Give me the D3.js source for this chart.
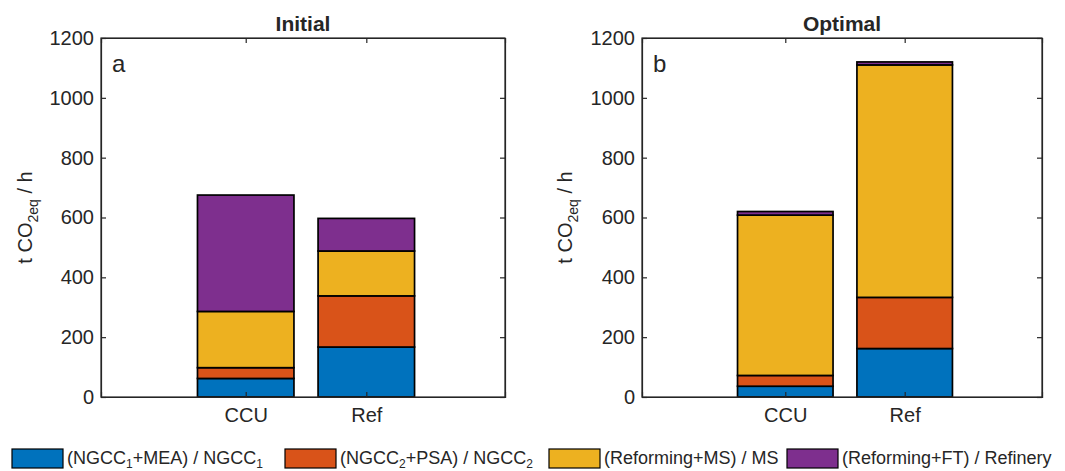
<!DOCTYPE html>
<html><head><meta charset="utf-8">
<script src="https://cdn.jsdelivr.net/npm/d3@7"></script>
<style>
body{margin:0;background:#fff;}
text{font-family:Arial,"Liberation Sans",sans-serif;fill:#262626;}
</style></head>
<body><svg id="c" width="1065" height="471"></svg>
<script>
const categories = ["CCU", "Ref"];
const seriesNames = ["NGCC1+MEA", "NGCC2+PSA", "Reforming+MS", "Reforming+FT"];
// stacked segment values (t CO2eq / h)
const initialBlue   = [62, 167];
const initialOrange = [36, 171];
const initialYellow = [188, 150];
const initialPurple = [389, 109];
const optimalBlue   = [36, 162];
const optimalOrange = [36, 171];
const optimalYellow = [536, 777];
const optimalPurple = [12, 10];
const yTicks = [0, 200, 400, 600, 800, 1000, 1200];
const colors = ["#0072BD", "#D95319", "#EDB120", "#7E2F8E"];

const svg = d3.select("#c");
const panels = [
  {title:"Initial", letter:"a", x0:101, x1:505, series:[initialBlue, initialOrange, initialYellow, initialPurple], ylab:32},
  {title:"Optimal", letter:"b", x0:642, x1:1042, series:[optimalBlue, optimalOrange, optimalYellow, optimalPurple], ylab:572}
];
const yTop = 38, yBot = 397;
const axisCol = "#262626";

panels.forEach(p => {
  const g = svg.append("g");
  const x = d3.scaleLinear().domain([-0.2, 3.15]).range([p.x0, p.x1]);
  const y = d3.scaleLinear().domain([0, 1200]).range([yBot, yTop]);
  const rows = categories.map((c, i) => {
    const o = {cat: c, idx: i + 1};
    seriesNames.forEach((s, k) => o[s] = p.series[k][i]);
    return o;
  });
  const stacked = d3.stack().keys(seriesNames)(rows);
  const bw = 0.8;
  stacked.forEach((layer, k) => {
    g.selectAll(null).data(layer).enter().append("rect")
      .attr("x", d => x(d.data.idx - bw/2))
      .attr("width", d => x(d.data.idx + bw/2) - x(d.data.idx - bw/2))
      .attr("y", d => y(d[1]))
      .attr("height", d => y(d[0]) - y(d[1]))
      .attr("fill", colors[k])
      .attr("stroke", "#000")
      .attr("stroke-width", 1.7);
  });
  const ya = g.append("g").attr("transform", `translate(${p.x0},0)`)
    .call(d3.axisLeft(y).tickValues(yTicks).tickSize(-5).tickPadding(7).tickFormat(d3.format("d")));
  const yr = g.append("g").attr("transform", `translate(${p.x1},0)`)
    .call(d3.axisRight(y).tickValues(yTicks).tickSize(-5).tickFormat(""));
  const xa = g.append("g").attr("transform", `translate(0,${yBot})`)
    .call(d3.axisBottom(x).tickValues([1,2]).tickSize(-5).tickPadding(11).tickFormat((d,i)=>categories[i]));
  const xt = g.append("g").attr("transform", `translate(0,${yTop})`)
    .call(d3.axisTop(x).tickValues([1,2]).tickSize(-5).tickFormat(""));
  [ya, yr, xa, xt].forEach(a => {
    a.select(".domain").attr("stroke", axisCol).attr("stroke-width", 1.2);
    a.selectAll(".tick line").attr("stroke", axisCol).attr("stroke-width", 1.2);
    a.selectAll("text").attr("font-size", 20).attr("font-family", 'Arial,"Liberation Sans",sans-serif').attr("fill", axisCol);
  });
  g.append("rect").attr("x", p.x0).attr("y", yTop).attr("width", p.x1 - p.x0).attr("height", yBot - yTop)
    .attr("fill", "none").attr("stroke", axisCol).attr("stroke-width", 1.2);
  g.append("text").attr("x", (p.x0 + p.x1)/2).attr("y", 31).attr("text-anchor", "middle")
    .attr("font-size", 21).attr("font-weight", "bold").attr("fill", "#000").text(p.title);
  g.append("text").attr("x", p.x0 + 11).attr("y", 72).attr("font-size", 24).attr("fill", "#000").text(p.letter);
  const yl = g.append("text").attr("transform", `translate(${p.ylab},${(yTop+yBot)/2}) rotate(-90)`)
    .attr("text-anchor", "middle").attr("font-size", 20);
  yl.append("tspan").text("t CO");
  yl.append("tspan").attr("font-size", 14).attr("dy", 6).text("2eq");
  yl.append("tspan").attr("dy", -6).text(" / h");
});

// legend
const legendItems = [
  {parts:[["(NGCC",0],["1",1],["+MEA) / NGCC",0],["1",1]], x:12},
  {parts:[["(NGCC",0],["2",1],["+PSA) / NGCC",0],["2",1]], x:285},
  {parts:[["(Reforming+MS) / MS",0]], x:549},
  {parts:[["(Reforming+FT) / Refinery",0]], x:787}
];
const lg = svg.append("g");
legendItems.forEach((it, k) => {
  lg.append("rect").attr("x", it.x).attr("y", 449).attr("width", 51).attr("height", 19)
    .attr("fill", colors[k]).attr("stroke", "#000").attr("stroke-width", 1.2);
  const t = lg.append("text").attr("x", it.x + 55).attr("y", 464).attr("font-size", 18).attr("fill", "#000");
  let prevSub = 0;
  it.parts.forEach(([s, sub]) => {
    const ts = t.append("tspan").text(s);
    if (sub) ts.attr("font-size", 12).attr("dy", 4);
    else if (prevSub) ts.attr("dy", -4);
    prevSub = sub;
  });
});
</script></body></html>
